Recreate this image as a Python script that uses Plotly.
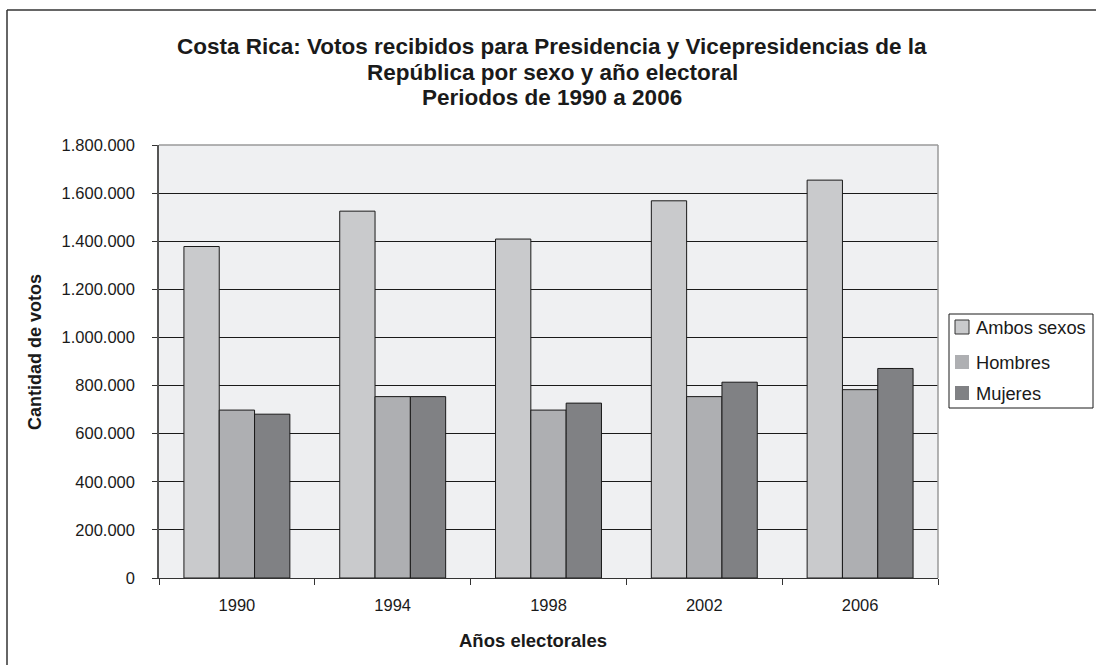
import plotly.graph_objects as go

years = ["1990", "1994", "1998", "2002", "2006"]
ambos = [1378000, 1525000, 1409000, 1568000, 1654000]
hombres = [698000, 754000, 698000, 754000, 783000]
mujeres = [681000, 754000, 727000, 814000, 871000]

series_names = ["Ambos sexos", "Hombres", "Mujeres"]
series_colors = ["#C9CACC", "#AEAFB2", "#808184"]
title_lines = [
    "Costa Rica: Votos recibidos para Presidencia y Vicepresidencias de la",
    "República por sexo y año electoral",
    "Periodos de 1990 a 2006",
]

W, H = 1096, 665
L, R, T, B = 159, 938, 145, 578
FONT = "Liberation Sans, Arial, sans-serif"
INK = "#1a1a1a"

def px_x(p):
    return (p - L) / (R - L)

def px_y(p):
    return (B - p) / (B - T)

fig = go.Figure()
for name, vals, col in zip(series_names, [ambos, hombres, mujeres], series_colors):
    fig.add_trace(go.Bar(
        x=years, y=vals, name=name, showlegend=False,
        marker=dict(color=col, line=dict(color=INK, width=1)),
    ))

annotations = []
for line, yc in zip(title_lines, [46, 72, 97]):
    annotations.append(dict(
        text="<b>" + line + "</b>", xref="paper", yref="paper",
        x=px_x(552), y=px_y(yc), showarrow=False,
        xanchor="center", yanchor="middle",
        font=dict(family=FONT, size=22.5, color=INK)))

annotations += [
    dict(text="<b>Cantidad de votos</b>", xref="paper", yref="paper",
         x=px_x(35), y=px_y(352), textangle=-90, showarrow=False,
         xanchor="center", yanchor="middle",
         font=dict(family=FONT, size=18, color=INK)),
    dict(text="<b>Años electorales</b>", xref="paper", yref="paper",
         x=px_x(533), y=px_y(640), showarrow=False,
         xanchor="center", yanchor="middle",
         font=dict(family=FONT, size=18.5, color=INK)),
]

shapes = [
    # plot area top and right border
    dict(type="line", xref="paper", yref="paper", x0=0, x1=1, y0=1, y1=1,
         line=dict(color="#9a9a9a", width=1.5)),
    dict(type="line", xref="paper", yref="paper", x0=1, x1=1, y0=0, y1=1,
         line=dict(color="#9a9a9a", width=1.5)),
    # outer frame
    dict(type="line", xref="paper", yref="paper", x0=px_x(7), x1=px_x(1100),
         y0=px_y(10), y1=px_y(10), line=dict(color="#333333", width=1.5)),
    dict(type="line", xref="paper", yref="paper", x0=px_x(7), x1=px_x(7),
         y0=px_y(10), y1=px_y(670), line=dict(color="#333333", width=1.5)),
    # legend box
    dict(type="rect", xref="paper", yref="paper", x0=px_x(949), x1=px_x(1093),
         y0=px_y(314), y1=px_y(408), line=dict(color=INK, width=1),
         fillcolor="white"),
]

# legend entries (drawn manually)
for i, (name, col, yc) in enumerate(zip(series_names, series_colors, [327, 362, 393])):
    shapes.append(dict(
        type="rect", xref="paper", yref="paper",
        x0=px_x(955), x1=px_x(969), y0=px_y(yc - 7), y1=px_y(yc + 7),
        fillcolor=col,
        line=dict(color="#333333", width=1 if i == 0 else 0)))
    annotations.append(dict(
        text=name, xref="paper", yref="paper",
        x=px_x(974), y=px_y(yc), showarrow=False,
        xanchor="left", yanchor="middle",
        font=dict(family=FONT, size=18.3, color=INK)))

fig.update_layout(
    width=W, height=H,
    margin=dict(l=L, r=W - R, t=T, b=H - B, autoexpand=False),
    paper_bgcolor="white",
    plot_bgcolor="#EFF0F2",
    barmode="group",
    bargap=0.32,
    bargroupgap=0,
    separators=",.",
    showlegend=False,
    font=dict(family=FONT, size=16, color=INK),
    xaxis=dict(
        showline=True, linecolor="#333333", linewidth=1,
        ticks="outside", ticklen=6, tickcolor="#333333", tickson="boundaries",
        ticklabelstandoff=12,
        tickfont=dict(family=FONT, size=16.5, color=INK),
        showgrid=False,
    ),
    yaxis=dict(
        range=[0, 1800000], dtick=200000, tickformat=",d",
        showline=True, linecolor="#555555", linewidth=1.5,
        ticks="outside", ticklen=5, tickcolor="#333333",
        ticklabelstandoff=14,
        gridcolor=INK, gridwidth=1,
        zeroline=False,
        tickfont=dict(family=FONT, size=16.5, color=INK),
    ),
    annotations=annotations,
    shapes=shapes,
)

fig.write_html("out.html")
